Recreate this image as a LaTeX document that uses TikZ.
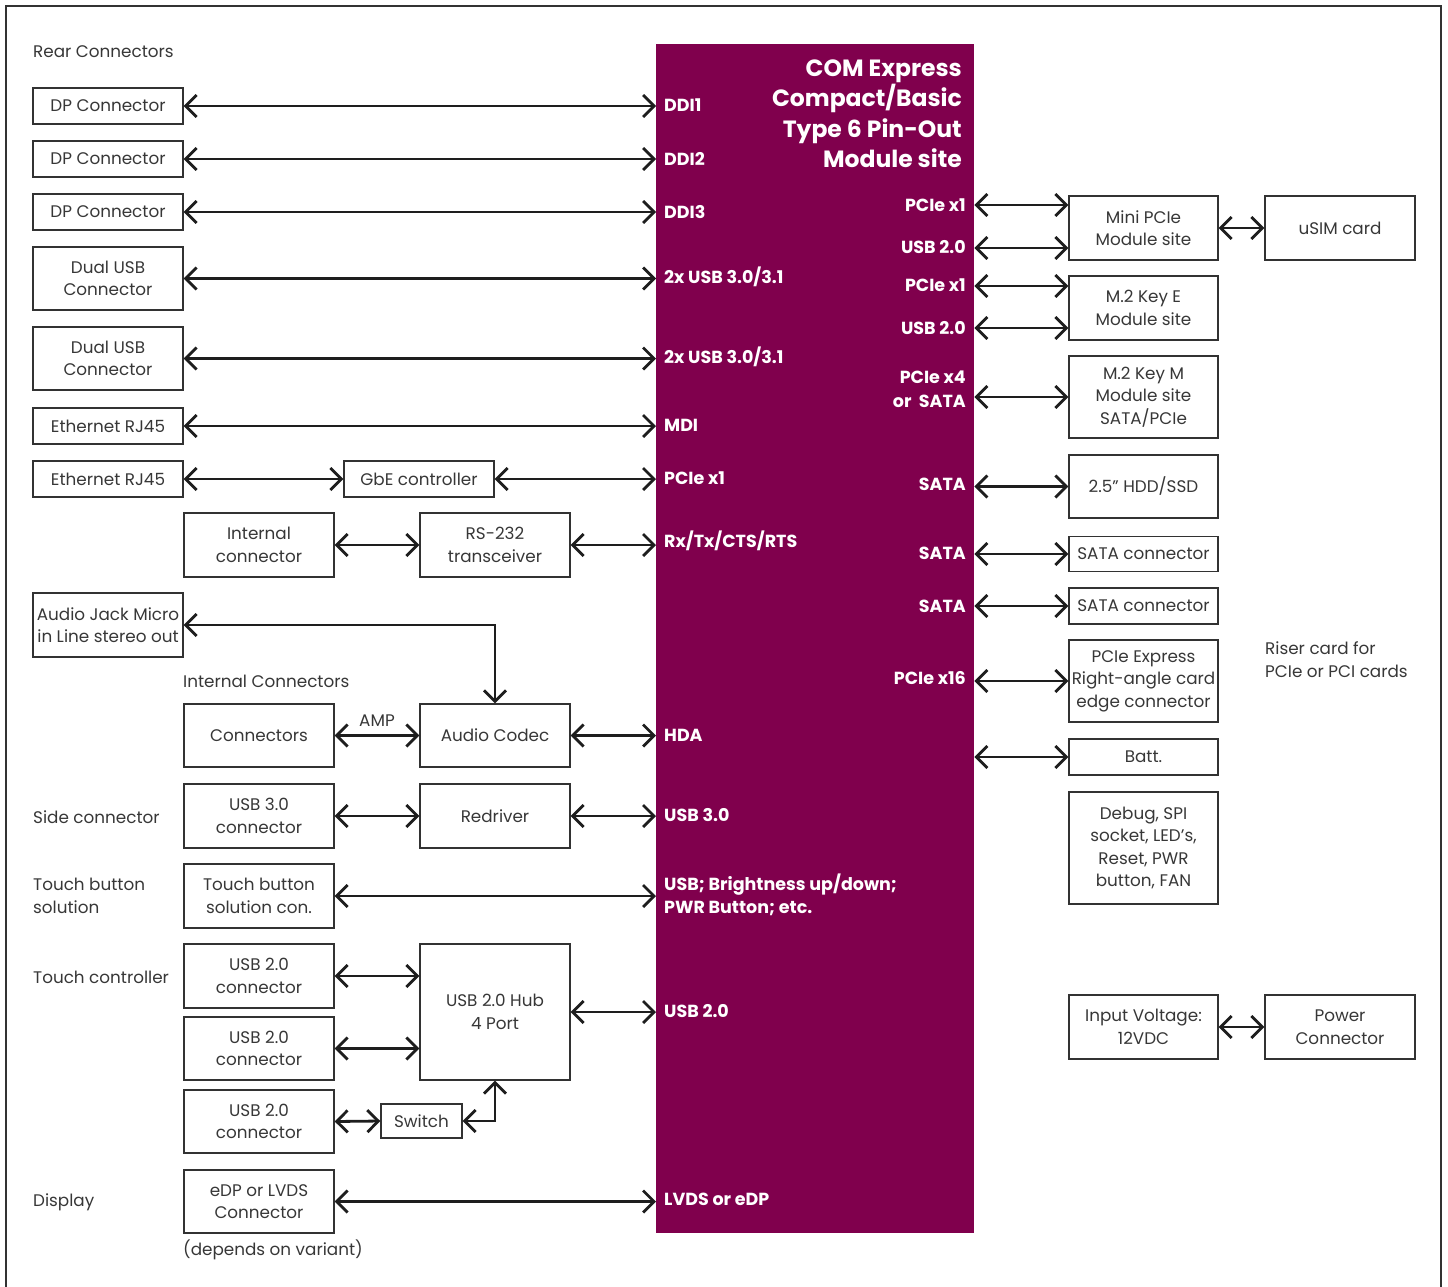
\documentclass[tikz,border=0pt]{standalone}
\usepackage{fontspec}
\setmainfont{Poppins}
\usetikzlibrary{arrows.meta}
\definecolor{comp}{RGB}{128,0,77}
\definecolor{tx}{RGB}{55,55,55}
\definecolor{bd}{RGB}{50,50,50}
\definecolor{ar}{RGB}{30,30,30}
\begin{document}
\begin{tikzpicture}[x=1pt,y=-1pt,
 box/.style={draw=bd,line width=1.4pt,minimum width=150pt,inner sep=0pt,align=center,text=tx,font=\fontsize{16.8}{22.5}\selectfont},
 lbl/.style={anchor=west,inner sep=0pt,text=tx,font=\fontsize{16.8}{23}\selectfont,align=left},
 wl/.style={anchor=west,inner sep=0pt,text=white,font=\bfseries\fontsize{17.5}{23}\selectfont,align=left},
 wr/.style={anchor=east,inner sep=0pt,text=white,font=\bfseries\fontsize{17.5}{24}\selectfont,align=right},
 arr/.style={draw=ar,line width=2.8pt,{Straight Barb[length=11pt,width=22pt]}-{Straight Barb[length=11pt,width=22pt]}}
]
\useasboundingbox (0,0) rectangle (1448,1286);
\draw[bd,line width=1.4pt] (6,1290) -- (6,6) -- (1441,6) -- (1441,1290);

% central module
\node[fill=comp,minimum width=318pt,minimum height=1189pt,inner sep=0pt,anchor=north west] (com) at (656,44) {};
\node[anchor=north east,inner sep=0pt,text=white,font=\bfseries\fontsize{23.5}{30.5}\selectfont,align=right] (title) at (962,59.5) {COM Express\\Compact/Basic\\Type 6 Pin-Out\\Module site};

% section labels
\node[lbl] (rear) at (33,52) {Rear Connectors};
\node[lbl] (intl) at (183,681) {Internal Connectors};
\node[lbl] (side) at (33,817) {Side connector};
\node[lbl] (tbs) at (33,896) {Touch button\\solution};
\node[lbl] (tctl) at (33,977) {Touch controller};
\node[lbl] (disp) at (33,1202) {Display};
\node[lbl] (dep) at (183,1250) {(depends on variant)};
\node[lbl] (riser) at (1265,660) {Riser card for\\PCIe or PCI cards};

% left boxes
\node[box,minimum height=36pt] (dp1) at (108,106) {DP Connector};
\node[box,minimum height=36pt] (dp2) at (108,159) {DP Connector};
\node[box,minimum height=36pt] (dp3) at (108,212) {DP Connector};
\node[box,minimum height=63pt] (usb1) at (108,278.5) {Dual USB\\Connector};
\node[box,minimum height=63pt] (usb2) at (108,358.5) {Dual USB\\Connector};
\node[box,minimum height=36pt] (eth1) at (108,426) {Ethernet RJ45};
\node[box,minimum height=36pt] (eth2) at (108,479) {Ethernet RJ45};
\node[box,minimum height=36pt] (gbe) at (419,479) {GbE controller};
\node[box,minimum height=64pt] (intc) at (259,545) {Internal\\connector};
\node[box,minimum height=64pt] (rs) at (495,545) {RS-232\\transceiver};
\node[box,minimum height=64pt] (aj) at (108,625) {Audio Jack Micro\\in Line stereo out};
\node[box,minimum height=63pt] (conn) at (259,735.5) {Connectors};
\node[box,minimum height=63pt] (codec) at (495,735.5) {Audio Codec};
\node[box,minimum height=64pt] (usb3) at (259,816) {USB 3.0\\connector};
\node[box,minimum height=64pt] (redr) at (495,816) {Redriver};
\node[box,minimum height=64pt] (touch) at (259,896) {Touch button\\solution con.};
\node[box,minimum height=64pt] (u2a) at (259,976) {USB 2.0\\connector};
\node[box,minimum height=63pt] (u2b) at (259,1048.5) {USB 2.0\\connector};
\node[box,minimum height=63pt] (u2c) at (259,1121.5) {USB 2.0\\connector};
\node[box,minimum height=136pt] (hub) at (495,1012) {USB 2.0 Hub\\4 Port};
\node[box,minimum width=81pt,minimum height=34pt] (sw) at (421.5,1121) {Switch};
\node[box,minimum height=63pt] (edp) at (259,1201.5) {eDP or LVDS\\Connector};
\node[lbl,anchor=center] (amp) at (377,721) {AMP};

% right boxes
\node[box,minimum width=149pt,minimum height=64pt] (mini) at (1143.5,228) {Mini PCIe\\Module site};
\node[box,minimum height=64pt] (usim) at (1340,228) {uSIM card};
\node[box,minimum width=149pt,minimum height=64pt] (m2e) at (1143.5,308) {M.2 Key E\\Module site};
\node[box,minimum width=149pt,minimum height=82pt] (m2m) at (1143.5,397) {M.2 Key M\\Module site\\SATA/PCIe};
\node[box,minimum width=149pt,minimum height=63pt] (hdd) at (1143.5,486.5) {2.5” HDD/SSD};
\node[box,minimum width=149pt,minimum height=35pt] (sata1) at (1143.5,554) {SATA connector};
\node[box,minimum width=149pt,minimum height=36pt] (sata2) at (1143.5,606) {SATA connector};
\node[box,minimum width=149pt,minimum height=82pt] (pcie) at (1143.5,681) {PCIe Express\\Right-angle card\\edge connector};
\node[box,minimum width=149pt,minimum height=36pt] (batt) at (1143.5,757) {Batt.};
\node[box,minimum width=149pt,minimum height=112pt] (debug) at (1143.5,848) {Debug, SPI\\socket, LED’s,\\Reset, PWR\\button, FAN};
\node[box,minimum width=149pt,minimum height=64pt] (inv) at (1143.5,1027) {Input Voltage:\\12VDC};
\node[box,minimum height=64pt] (pwr) at (1340,1027) {Power\\Connector};

% white labels left
\node[wl] (lddi1) at (664,105) {DDI1};
\node[wl] (lddi2) at (664,159) {DDI2};
\node[wl] (lddi3) at (664,212) {DDI3};
\node[wl] (lusba) at (664,277) {2x USB 3.0/3.1};
\node[wl] (lusbb) at (664,357) {2x USB 3.0/3.1};
\node[wl] (lmdi) at (664,425) {MDI};
\node[wl] (lpcie) at (664,478) {PCIe x1};
\node[wl] (lrx) at (664,541) {Rx/Tx/CTS/RTS};
\node[wl] (lhda) at (664,735) {HDA};
\node[wl] (lusb3) at (664,815) {USB 3.0};
\node[wl] (lbr) at (664,895) {USB; Brightness up/down;\\PWR Button; etc.};
\node[wl] (lusb2) at (664,1011) {USB 2.0};
\node[wl] (llvds) at (664,1199) {LVDS or eDP};

% white labels right
\node[wr] (rp1) at (966,205) {PCIe x1};
\node[wr] (ru1) at (966,247) {USB 2.0};
\node[wr] (rp2) at (966,285) {PCIe x1};
\node[wr] (ru2) at (966,328) {USB 2.0};
\node[wr] (rp4) at (966,389) {PCIe x4\\or~~SATA};
\node[wr] (rs1) at (966,484) {SATA};
\node[wr] (rs2) at (966,553) {SATA};
\node[wr] (rs3) at (966,606) {SATA};
\node[wr] (rp16) at (966,678) {PCIe x16};

% left connectors
\draw[arr] (dp1.east) -- (com.west |- dp1.east);
\draw[arr] (dp2.east) -- (com.west |- dp2.east);
\draw[arr] (dp3.east) -- (com.west |- dp3.east);
\draw[arr] (usb1.east) -- (com.west |- usb1.east);
\draw[arr] (usb2.east) -- (com.west |- usb2.east);
\draw[arr] (eth1.east) -- (com.west |- eth1.east);
\draw[arr] (eth2.east) -- (gbe.west);
\draw[arr] (gbe.east) -- (com.west |- gbe.east);
\draw[arr] (intc.east) -- (rs.west);
\draw[arr] (rs.east) -- (com.west |- rs.east);
\draw[arr] (aj.east) -| (codec.north);
\draw[arr] (conn.east) -- (codec.west);
\draw[arr] (codec.east) -- (com.west |- codec.east);
\draw[arr] (usb3.east) -- (redr.west);
\draw[arr] (redr.east) -- (com.west |- redr.east);
\draw[arr] (touch.east) -- (com.west |- touch.east);
\draw[arr] (u2a.east) -- (hub.west |- u2a.east);
\draw[arr] (u2b.east) -- (hub.west |- u2b.east);
\draw[arr] (hub.east) -- (com.west |- hub.east);
\draw[arr] (u2c.east) -- (sw.west);
\draw[arr] (sw.east) -| (hub.south);
\draw[arr] (edp.east) -- (com.west |- edp.east);

% right connectors
\draw[arr] (com.east |- 0,205) -- (mini.west |- 0,205);
\draw[arr] (com.east |- 0,248) -- (mini.west |- 0,248);
\draw[arr] (com.east |- 0,286) -- (m2e.west |- 0,286);
\draw[arr] (com.east |- 0,328) -- (m2e.west |- 0,328);
\draw[arr] (com.east |- m2m.west) -- (m2m.west);
\draw[arr] (com.east |- hdd.west) -- (hdd.west);
\draw[arr] (com.east |- sata1.west) -- (sata1.west);
\draw[arr] (com.east |- sata2.west) -- (sata2.west);
\draw[arr] (com.east |- pcie.west) -- (pcie.west);
\draw[arr] (com.east |- batt.west) -- (batt.west);
\draw[arr] (mini.east) -- (usim.west);
\draw[arr] (inv.east) -- (pwr.west);
\end{tikzpicture}
\end{document}
